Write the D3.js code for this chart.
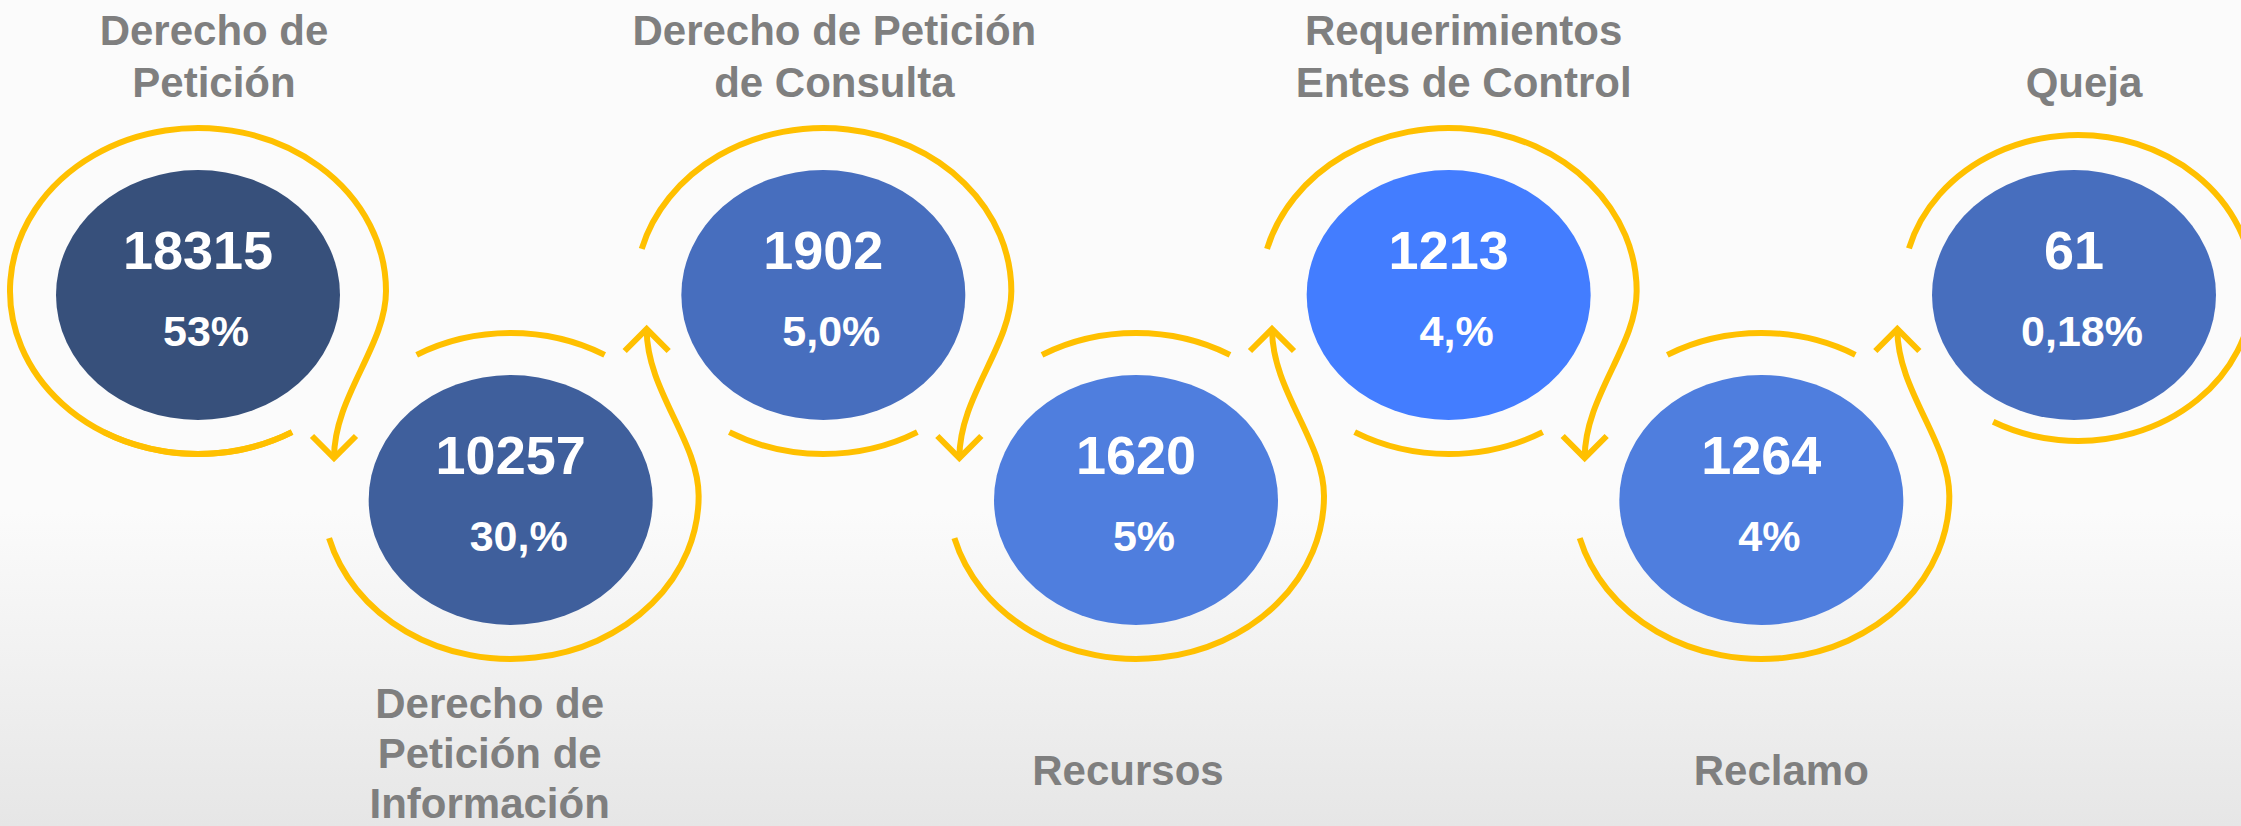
<!DOCTYPE html>
<html>
<head>
<meta charset="utf-8">
<script src="https://cdn.jsdelivr.net/npm/d3@7"></script>
<style>
  html, body { margin: 0; padding: 0; background: #fafafa; }
  svg { display: block; }
  .label { font-family: "Liberation Sans", Arial, sans-serif; font-weight: bold; fill: #7f7f7f; }
  .num { font-family: "Liberation Sans", Arial, sans-serif; font-weight: bold; fill: #ffffff; }
</style>
</head>
<body>
<div id="chart"></div>
<script>

/* Data */

var categories = [
    ["Derecho de", "Petición"],
    ["Derecho de", "Petición de", "Información"],
    ["Derecho de Petición", "de Consulta"],
    ["Recursos"],
    ["Requerimientos", "Entes de Control"],
    ["Reclamo"],
    ["Queja"]
];
var counts = [18315, 10257, 1902, 1620, 1213, 1264, 61];
var shares = ["53%", "30,%", "5,0%", "5%", "4,%", "4%", "0,18%"];

/* Style */

// node fills, left to right
var node_fill = ["#37507b", "#3f5f9c", "#476ebe", "#4f7ede", "#437dff", "#4f7ede", "#476ebe"];
// small horizontal nudge of each caption off its node centre
var label_dx = [16, -21, 11, -8, 15, 20, 10];

/* Renderer */

var width = 2241, height = 826;
var ring_color = "#ffc000";

var svg = d3.select("#chart").append("svg")
    .attr("width", width)
    .attr("height", height);

var defs = svg.append("defs");
var grad = defs.append("linearGradient")
    .attr("id", "bg")
    .attr("x1", 0).attr("y1", 0).attr("x2", 0).attr("y2", 1);
grad.append("stop").attr("offset", "0%").attr("stop-color", "#fbfbfb");
grad.append("stop").attr("offset", "62%").attr("stop-color", "#fbfbfb");
grad.append("stop").attr("offset", "100%").attr("stop-color", "#e6e6e6");

svg.append("rect")
    .attr("width", width).attr("height", height)
    .attr("fill", "url(#bg)");

var nodes = counts.map(function(c, i) {
    return {
        idx: i,
        count: c,
        share: shares[i],
        lines: categories[i],
        row: i % 2 === 0 ? "top" : "bottom",
        last: i === counts.length - 1
    };
});

var x = d3.scalePoint()
    .domain(d3.range(nodes.length))
    .range([198, 2074]);
var y = d3.scalePoint()
    .domain(["top", "bottom"])
    .range([295, 500]);

// point on the ring ellipse at angle t (deg, y down)
var pt = function(c, t) {
    var a = t * Math.PI / 180;
    return [c.x + c.rx * Math.cos(a), c.y + c.ry * Math.sin(a)];
};

var arc = function(c, t0, t1) {
    var p0 = pt(c, t0), p1 = pt(c, t1);
    var large = Math.abs(t1 - t0) > 180 ? 1 : 0;
    var sweep = t1 > t0 ? 1 : 0;
    return "M" + p0 + " A" + c.rx + "," + c.ry + " 0 " + large + "," + sweep + " " + p1;
};

var ring_of = function(d) {
    var cx = x(d.idx), cy = y(d.row);
    if (d.last) return { x: cx + 4, y: cy - 7, rx: 175, ry: 153 };
    return { x: cx, y: cy - 4, rx: 188, ry: 163 };
};

var g = svg.append("g");

// rings
var ring = g.selectAll(".ring")
    .data(nodes)
    .enter().append("g")
    .classed("ring", true)
    .attr("fill", "none")
    .attr("stroke", ring_color)
    .attr("stroke-width", 6);

ring.each(function(d) {
    var c = ring_of(d), sel = d3.select(this);
    var R = c.x + c.rx;

    if (d.last) {
        sel.append("path").attr("d", arc(c, 195, 479));
        return;
    }

    var dir = d.row === "top" ? 1 : -1;
    var main, side;
    if (d.row === "top") {
        main = arc(c, d.idx === 0 ? 60 : 195, 360);
        side = arc(c, 60, 120);
    } else {
        main = arc(c, 165, 0);
        side = arc(c, 240, 300);
    }
    // S-bend down (or up) to the next node, then the arrow head
    var tip = [R - 52, c.y + dir * 167];
    main += " C" + [R, c.y + dir * 55] + " " + [R - 52, c.y + dir * 105] + " " + tip;

    sel.append("path").attr("d", main);
    sel.append("path").attr("d", side);
    sel.append("path")
        .attr("d", "M" + [tip[0] - 22, tip[1] - dir * 22] + " L" + tip +
              " L" + [tip[0] + 22, tip[1] - dir * 22]);
});

// ellipses
var node = g.selectAll(".node")
    .data(nodes)
    .enter().append("g")
    .classed("node", true)
    .attr("transform", function(d) {
        return "translate(" + x(d.idx) + "," + y(d.row) + ")";
    });

node.append("ellipse")
    .attr("rx", 142)
    .attr("ry", 125)
    .attr("fill", function(d) { return node_fill[d.idx]; });

node.append("text")
    .classed("num", true)
    .attr("text-anchor", "middle")
    .attr("x", 0)
    .attr("y", -26)
    .style("font-size", "54px")
    .text(function(d) { return d.count; });

node.append("text")
    .classed("num", true)
    .attr("text-anchor", "middle")
    .attr("x", 8)
    .attr("y", 51)
    .style("font-size", "43px")
    .text(function(d) { return d.share; });

// category labels
g.selectAll(".label")
    .data(nodes)
    .enter().append("text")
    .classed("label", true)
    .attr("text-anchor", "middle")
    .style("font-size", "42px")
    .each(function(d) {
        var n = d.lines.length, y0;
        if (d.row === "top") {
            y0 = 97 - (n - 1) * 52;
        } else {
            y0 = n > 1 ? 718 : 785;
        }
        var step = d.row === "top" ? 52 : 50;
        d3.select(this).selectAll("tspan")
            .data(d.lines)
            .enter().append("tspan")
            .attr("x", x(d.idx) + label_dx[d.idx])
            .attr("y", function(l, k) { return y0 + k * step; })
            .text(function(l) { return l; });
    });

</script>
</body>
</html>
